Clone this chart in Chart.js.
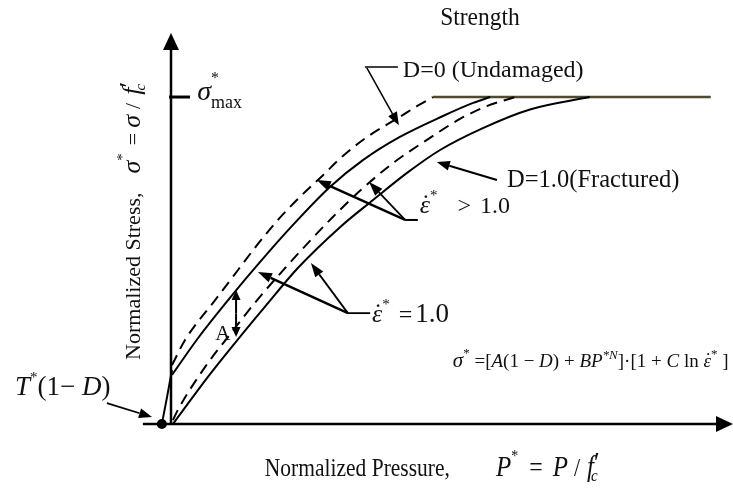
<!DOCTYPE html>
<html><head><meta charset="utf-8">
<script src="https://cdn.jsdelivr.net/npm/chart.js@4/dist/chart.umd.min.js"></script>
<style>html,body{margin:0;padding:0;background:#fff}canvas{display:block}</style>
</head><body>
<canvas id="c" width="733" height="496"></canvas>
<script>
// Normalized pressure P* (x) and normalized stress σ* (y) (σ*max = 1)
const tensionP = [-0.028, -0.012, 0.003];
const tensionS = [0.000, 0.083, 0.165];

const undamagedFastP = [0.003, 0.043, 0.135, 0.205, 0.263, 0.327, 0.394, 0.465, 0.526, 0.609, 0.700, 0.752, 0.801];
const undamagedFastS = [0.180, 0.257, 0.379, 0.471, 0.547, 0.624, 0.694, 0.761, 0.820, 0.884, 0.939, 0.972, 1.000];

const undamagedRefP = [0.003, 0.083, 0.187, 0.272, 0.364, 0.486, 0.587, 0.700, 0.832, 0.924, 0.976];
const undamagedRefS = [0.150, 0.263, 0.394, 0.495, 0.599, 0.725, 0.807, 0.878, 0.942, 0.982, 1.000];

const fracturedFastP = [0.006, 0.021, 0.104, 0.174, 0.266, 0.349, 0.425, 0.495, 0.578, 0.679, 0.783, 0.884, 0.966, 1.052];
const fracturedFastS = [0.012, 0.043, 0.174, 0.266, 0.382, 0.477, 0.560, 0.633, 0.713, 0.798, 0.869, 0.933, 0.972, 1.000];

const fracturedRefP = [0.006, 0.113, 0.196, 0.287, 0.388, 0.517, 0.618, 0.722, 0.823, 0.954, 1.098, 1.281];
const fracturedRefS = [0.000, 0.144, 0.248, 0.358, 0.477, 0.602, 0.685, 0.768, 0.838, 0.905, 0.962, 1.000];

const plateauP = [0.801, 1.651];
const plateauS = [1.000, 1.000];

const sigmaMax = 1.0;
const failureP = -0.028; // T*(1-D) point

const zip = (xs, ys) => xs.map((x, i) => ({x, y: ys[i]}));
const FAM = '"Liberation Serif", "Times New Roman", serif';

// segs: [text, size, style, dy, mode, extra]; mode: 'over' (centered over previous), 'stack' (same x as previous), 'gap' (advance by extra px)
function drawRich(ctx, x, y, segs, align, vs) {
  const fontOf = s => (s[2] === 'i' ? 'italic ' : '') + s[1] + 'px ' + FAM;
  let cursor = 0, prev = null;
  const items = [];
  for (const s of segs) {
    const mode = s[4] || '';
    if (mode === 'gap') { cursor += s[5]; continue; }
    ctx.font = fontOf(s);
    const w = ctx.measureText(s[0]).width;
    let sx;
    if (mode === 'over') sx = prev.x + prev.w / 2 - w / 2 + (s[5] || 0);
    else if (mode === 'stack') { sx = prev.x + (s[5] || 0); cursor = Math.max(cursor, sx + w); }
    else { sx = cursor; cursor += w; }
    const it = {s, x: sx, w};
    items.push(it);
    if (mode !== 'over') prev = it;
  }
  const off = align === 'center' ? -cursor / 2 : align === 'right' ? -cursor : 0;
  ctx.save();
  ctx.translate(x, y);
  ctx.scale(1, vs || 1);
  ctx.textAlign = 'left';
  ctx.textBaseline = 'alphabetic';
  for (const it of items) {
    ctx.font = fontOf(it.s);
    ctx.fillText(it.s[0], off + it.x, (it.s[3] || 0));
  }
  ctx.restore();
  return cursor;
}

function arrow(ctx, x1, y1, x2, y2, len, hw, lw) {
  const a = Math.atan2(y2 - y1, x2 - x1);
  const bx = x2 - Math.cos(a) * len, by = y2 - Math.sin(a) * len;
  ctx.lineWidth = lw;
  ctx.beginPath(); ctx.moveTo(x1, y1); ctx.lineTo(bx, by); ctx.stroke();
  ctx.beginPath();
  ctx.moveTo(x2, y2);
  ctx.lineTo(bx + Math.sin(a) * hw, by - Math.cos(a) * hw);
  ctx.lineTo(bx - Math.sin(a) * hw, by + Math.cos(a) * hw);
  ctx.closePath(); ctx.fill();
}

const decor = {
  id: 'decor',
  beforeDatasetsDraw(chart) {
    const ctx = chart.ctx, xs = chart.scales.x, ys = chart.scales.y;
    const X = v => xs.getPixelForValue(v), Y = v => ys.getPixelForValue(v);
    ctx.save();
    ctx.strokeStyle = '#000'; ctx.fillStyle = '#000';
    arrow(ctx, X(0), Y(0), X(0), Y(1.196), 17, 8, 2.5);
    arrow(ctx, X(-0.086), Y(0), X(1.719), Y(0), 17, 8, 2.5);
    ctx.lineWidth = 3;
    ctx.beginPath(); ctx.moveTo(X(-0.006), Y(sigmaMax)); ctx.lineTo(X(0.058), Y(sigmaMax)); ctx.stroke();
    ctx.restore();
  },
  afterDatasetsDraw(chart) {
    const ctx = chart.ctx, xs = chart.scales.x, ys = chart.scales.y;
    const X = v => xs.getPixelForValue(v), Y = v => ys.getPixelForValue(v);
    ctx.save();
    ctx.strokeStyle = '#000'; ctx.fillStyle = '#000';
    ctx.beginPath(); ctx.arc(X(failureP), Y(0), 5, 0, Math.PI * 2); ctx.fill();
    ctx.lineCap = 'butt';
    // D=0 leader
    ctx.lineWidth = 1.5;
    ctx.beginPath(); ctx.moveTo(X(0.593), Y(1.092)); ctx.lineTo(X(0.694), Y(1.092)); ctx.stroke();
    arrow(ctx, X(0.599), Y(1.089), X(0.697), Y(0.914), 13, 5, 1.5);
    // D=1 leader
    arrow(ctx, X(0.997), Y(0.746), X(0.813), Y(0.801), 13, 5, 2);
    // strain rate > 1 leaders
    ctx.lineWidth = 2;
    ctx.beginPath(); ctx.moveTo(X(0.716), Y(0.624)); ctx.lineTo(X(0.755), Y(0.624)); ctx.stroke();
    arrow(ctx, X(0.716), Y(0.624), X(0.446), Y(0.746), 14, 5, 2.5);
    arrow(ctx, X(0.716), Y(0.624), X(0.606), Y(0.740), 14, 5, 1.8);
    // strain rate = 1 leaders
    ctx.beginPath(); ctx.moveTo(X(0.541), Y(0.339)); ctx.lineTo(X(0.609), Y(0.339)); ctx.stroke();
    arrow(ctx, X(0.541), Y(0.339), X(0.266), Y(0.465), 14, 5, 2.5);
    arrow(ctx, X(0.541), Y(0.339), X(0.428), Y(0.492), 14, 5, 1.8);
    // A double arrow
    arrow(ctx, X(0.199), Y(0.338), X(0.199), Y(0.410), 10, 4.5, 2);
    arrow(ctx, X(0.199), Y(0.338), X(0.199), Y(0.266), 10, 4.5, 2);
    // T* leader
    arrow(ctx, X(-0.196), Y(0.064), X(-0.058), Y(0.021), 13, 5, 1.8);

    ctx.fillStyle = '#111';
    drawRich(ctx, X(0.945), Y(1.220), [['Strength', 23.5, 'n']], 'center', 1.1);
    drawRich(ctx, X(0.709), Y(1.061), [['D=0 (Undamaged)', 24, 'n']]);
    drawRich(ctx, X(1.028), Y(0.725), [['D=1.0(Fractured)', 24.5, 'n']]);
    drawRich(ctx, X(0.761), Y(0.645), [['ε', 26, 'i'], ['˙', 26, 'n', -1, 'over', 1], ['*', 15, 'n', -13], ['', 0, 'n', 0, 'gap', 20], ['>', 24, 'n'], ['', 0, 'n', 0, 'gap', 9], ['1.0', 24, 'n']]);
    drawRich(ctx, X(0.615), Y(0.312), [['ε', 26, 'i'], ['˙', 26, 'n', -1, 'over', 1], ['*', 15, 'n', -13], ['', 0, 'n', 0, 'gap', 9], ['=', 24, 'n'], ['', 0, 'n', 0, 'gap', 3], ['1.0', 27, 'n']]);
    drawRich(ctx, X(0.135), Y(0.257), [['A', 21, 'n']]);
    drawRich(ctx, X(0.080), Y(0.991), [['σ', 28, 'i'], ['*', 16, 'n', -17], ['max', 18, 'n', 8, 'stack']]);
    drawRich(ctx, X(-0.477), Y(0.089), [['T', 27, 'i'], ['*', 15, 'n', -13], ['(1', 27, 'n'], ['− ', 27, 'n'], ['D', 27, 'i'], [')', 27, 'n']]);
    drawRich(ctx, X(0.862), Y(0.174), [['σ', 21, 'i'], ['*', 13, 'n', -10], [' =[', 19, 'n'], ['A', 19, 'i'], ['(1 − ', 19, 'n'], ['D', 19, 'i'], [') + ', 19, 'n'], ['BP', 19, 'i'], ['*N', 13, 'i', -8], [']·[1 + ', 19, 'n'], ['C', 19, 'i'], [' ln ', 19, 'n'], ['ε', 19, 'i'], ['˙', 19, 'n', -1, 'over', 1], ['*', 13, 'n', -9], [' ]', 19, 'n']]);
    // axis titles
    drawRich(ctx, X(0.287), Y(-0.158), [['Normalized Pressure,', 21.5, 'n'], ['', 0, 'n', 0, 'gap', 46], ['P', 25, 'i'], ['*', 14, 'n', -13], ['', 0, 'n', 0, 'gap', 11], ['=', 24, 'n'], ['', 0, 'n', 0, 'gap', 10], ['P', 25, 'i'], ['', 0, 'n', 0, 'gap', 6], ['/', 22, 'n'], ['', 0, 'n', 0, 'gap', 7], ['f', 25, 'i'], ['′', 26, 'n', -3], ['c', 15, 'i', 5, 'stack', -3]], 'left', 1.15);
    ctx.save();
    ctx.translate(X(-0.095), Y(0.196));
    ctx.rotate(-Math.PI / 2);
    drawRich(ctx, 0, 0, [['Normalized Stress,', 22, 'n'], ['', 0, 'n', 0, 'gap', 19], ['σ', 26, 'i'], ['*', 15, 'n', -13], ['', 0, 'n', 0, 'gap', 8], ['=', 22, 'n'], ['', 0, 'n', 0, 'gap', 5], ['σ', 26, 'i'], ['', 0, 'n', 0, 'gap', 6], ['/', 22, 'n'], ['', 0, 'n', 0, 'gap', 8], ['f', 26, 'i'], ['′', 26, 'n', -3], ['c', 15, 'i', 5, 'stack', -3]]);
    ctx.restore();
    ctx.restore();
  }
};

const lineDs = (xs, ys, dashed, color, width) => ({
  data: zip(xs, ys), borderColor: color || '#000', borderWidth: width || 2,
  borderDash: dashed ? [11, 7] : [], pointRadius: 0, cubicInterpolationMode: 'monotone', fill: false
});

new Chart(document.getElementById('c'), {
  type: 'line',
  data: {
    datasets: [
      lineDs(tensionP, tensionS, false),
      lineDs(undamagedFastP, undamagedFastS, true),
      lineDs(undamagedRefP, undamagedRefS, false),
      lineDs(fracturedFastP, fracturedFastS, true),
      lineDs(fracturedRefP, fracturedRefS, false),
      lineDs(plateauP, plateauS, false, '#4f4b2c', 2.5)
    ]
  },
  options: {
    responsive: false, animation: false, devicePixelRatio: 1,
    layout: {padding: {left: 120, right: 0, top: 30, bottom: 56}},
    plugins: {legend: {display: false}, tooltip: {enabled: false}},
    scales: {
      x: {type: 'linear', display: false, min: -0.156, max: 1.719},
      y: {type: 'linear', display: false, min: -0.049, max: 1.205}
    }
  },
  plugins: [decor]
});
</script>
</body></html>
